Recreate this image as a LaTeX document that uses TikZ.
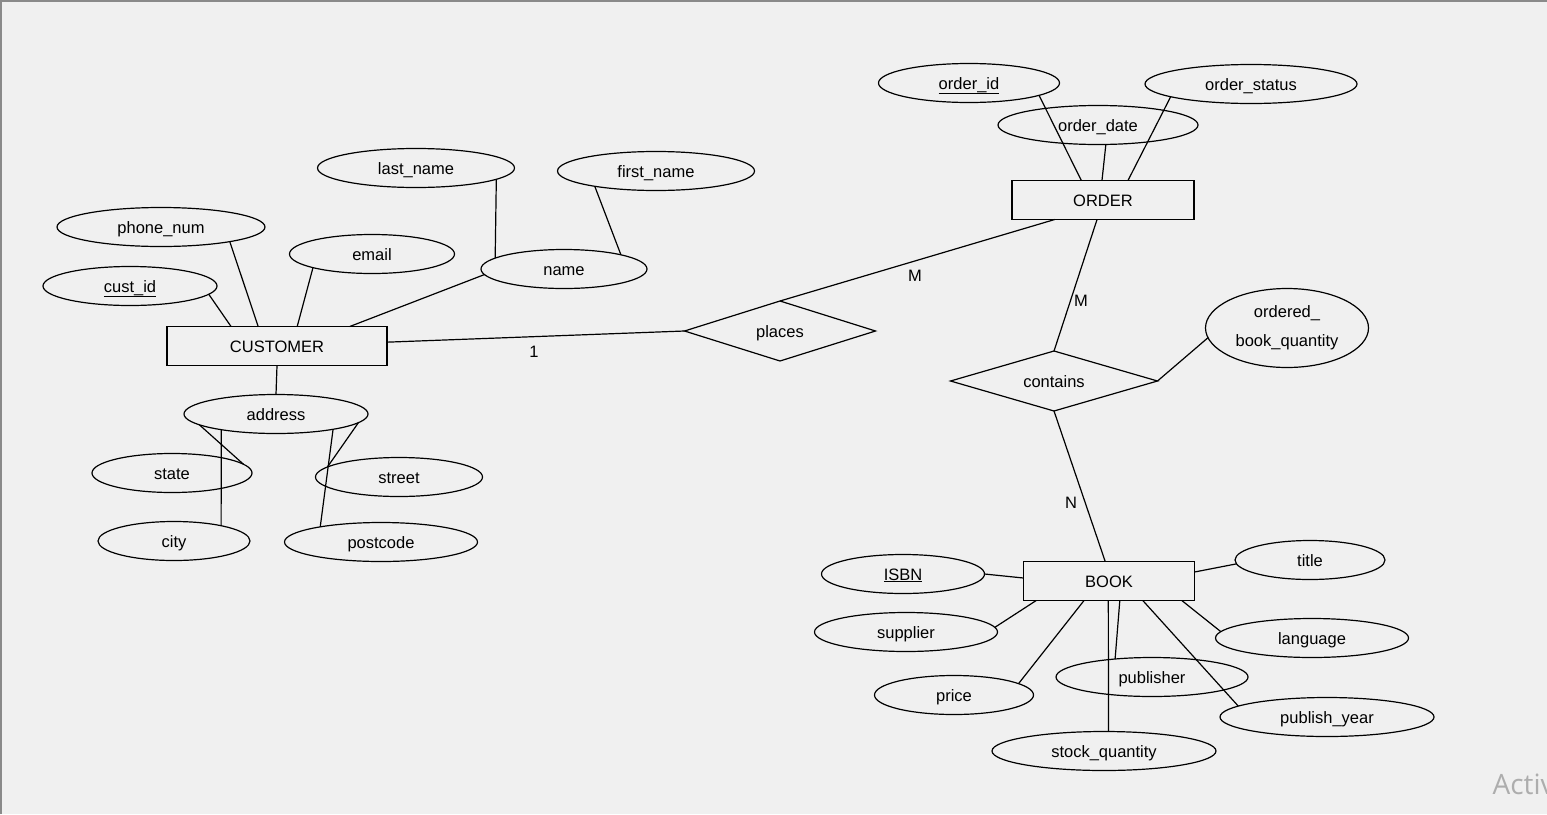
\documentclass[tikz,border=0pt]{standalone}
\usepackage{fontspec}
\setmainfont{Liberation Sans}
\newfontfamily\wmfont{Open Sans}
\usetikzlibrary{shapes.geometric}
\definecolor{winbg}{HTML}{F0F0F0}
\definecolor{winedge}{HTML}{8A8A8A}
\definecolor{wmark}{HTML}{ADADAD}
\newcommand{\erfont}{\fontsize{16.5}{19}\selectfont}

\begin{document}
\begin{tikzpicture}[x=1pt, y=-1pt, line width=1.2pt,
  ent/.style={draw, rectangle, inner sep=0pt, outer sep=0pt, minimum height=39pt,
    text height=12pt, text depth=0pt, font=\erfont},
  attr/.style={draw, ellipse, inner sep=0pt, outer sep=0pt, minimum height=39pt,
    text height=12pt, text depth=0pt, font=\erfont},
  attrtwo/.style={draw, ellipse, inner sep=0pt, outer sep=0pt, align=center, font=\erfont},
  rel/.style={draw, diamond, aspect=3.2, inner sep=0pt, outer sep=0pt, minimum height=60pt,
    text height=12pt, text depth=0pt, font=\erfont},
  card/.style={inner sep=0pt, font=\erfont}]
  \useasboundingbox (0,0) rectangle (1547,814);
  % window background
  \fill[winbg] (0,0) rectangle (1547,814);
  \draw[winedge, line width=2pt] (1,814) -- (1,1) -- (1547,1);
  % CUSTOMER and its attributes
  \node[ent, minimum width=220pt] (customer) at (277,346) {CUSTOMER};
  \node[attr, minimum width=174pt] (custid) at (130,286) {\underline{cust\_id}};
  \node[attr, minimum width=208pt] (phonenum) at (161,227) {phone\_num};
  \node[attr, minimum width=165pt] (email) at (372,254) {email};
  \node[attr, minimum width=166pt] (name) at (564,269) {name};
  \node[attr, minimum width=197pt] (lastname) at (416,168) {last\_name};
  \node[attr, minimum width=197pt] (firstname) at (656,171) {first\_name};
  \node[attr, minimum width=184pt] (address) at (276,414) {address};
  \node[attr, minimum width=160pt] (state) at (172,473) {state};
  \node[attr, minimum width=167pt] (street) at (399,477) {street};
  \node[attr, minimum width=152pt] (city) at (174,541) {city};
  \node[attr, minimum width=193pt] (postcode) at (381,542) {postcode};
  % ORDER and its attributes
  \node[ent, minimum width=182pt] (order) at (1103,200) {ORDER};
  \node[attr, minimum width=181pt] (orderid) at (969,83) {\underline{order\_id}};
  \node[attr, minimum width=212pt] (orderstatus) at (1251,84) {order\_status};
  \node[attr, minimum width=200pt] (orderdate) at (1098,125) {order\_date};
  % relationships
  \node[rel, minimum width=191pt] (places) at (780,331) {places};
  \node[rel, minimum width=207pt] (contains) at (1054,381) {contains};
  \node[attrtwo, minimum width=163pt, minimum height=79pt] (obq) at (1287,328)
    {ordered\_\\[10pt]book\_quantity};
  % BOOK and its attributes
  \node[ent, minimum width=171pt] (book) at (1109,581) {BOOK};
  \node[attr, minimum width=163pt] (isbn) at (903,574) {\underline{ISBN}};
  \node[attr, minimum width=150pt] (title) at (1310,560) {title};
  \node[attr, minimum width=183pt] (supplier) at (906,632) {supplier};
  \node[attr, minimum width=193pt] (language) at (1312,638) {language};
  \node[attr, minimum width=159pt] (price) at (954,695) {price};
  \node[attr, minimum width=192pt] (publisher) at (1152,677) {publisher};
  \node[attr, minimum width=214pt] (publishyear) at (1327,717) {publish\_year};
  \node[attr, minimum width=224pt] (stockqty) at (1104,751) {stock\_quantity};
  % cardinalities
  \node[card] (one) at (534,352) {1};
  \node[card] (mplaces) at (915,276) {M};
  \node[card] (mcontains) at (1081,301) {M};
  \node[card] (ncontains) at (1071,503) {N};
  % --- customer wiring ---
  \draw (custid.-6) -- (customer.157);
  \draw (phonenum.-12) -- (customer.134);
  \draw (email.193) -- (customer.44);
  \draw (name.184) -- (customer.15);
  \draw (lastname.-8) -- (name.171);
  \draw (firstname.194) -- (name.14);
  \draw (customer.south) -- (address.north);
  \draw (address.188) -- (state.7);
  \draw (address.196) -- (city.18);
  \draw (address.-6) -- (street.172);
  \draw (address.-15) -- (postcode.166);
  % --- relationships ---
  \draw (customer.2) -- (places.west);
  \draw (places.north) -- (order.202);
  \draw (order.253) -- (contains.north);
  \draw (contains.east) -- (obq.187);
  \draw (contains.south) -- (book.101);
  % --- order wiring ---
  \draw (orderid.-10) -- (order.138);
  \draw (orderdate.-68) -- (order.93);
  \draw (orderstatus.189) -- (order.38);
  % --- book wiring ---
  \draw (isbn.east) -- (book.178);
  \draw (title.183) -- (book.6);
  \draw (supplier.3) -- (book.195);
  \draw (price.10) -- (book.218);
  \draw (book.-92) -- (stockqty.77);
  \draw (publisher.154) -- (book.-61);
  \draw (publishyear.173) -- (book.-30);
  \draw (language.176) -- (book.-15);
  % watermark
  \node[anchor=base west, inner sep=0pt, text=wmark, font=\wmfont\fontsize{28}{30}\selectfont]
    (wm) at (1492,794) {Activ};
\end{tikzpicture}
\end{document}
